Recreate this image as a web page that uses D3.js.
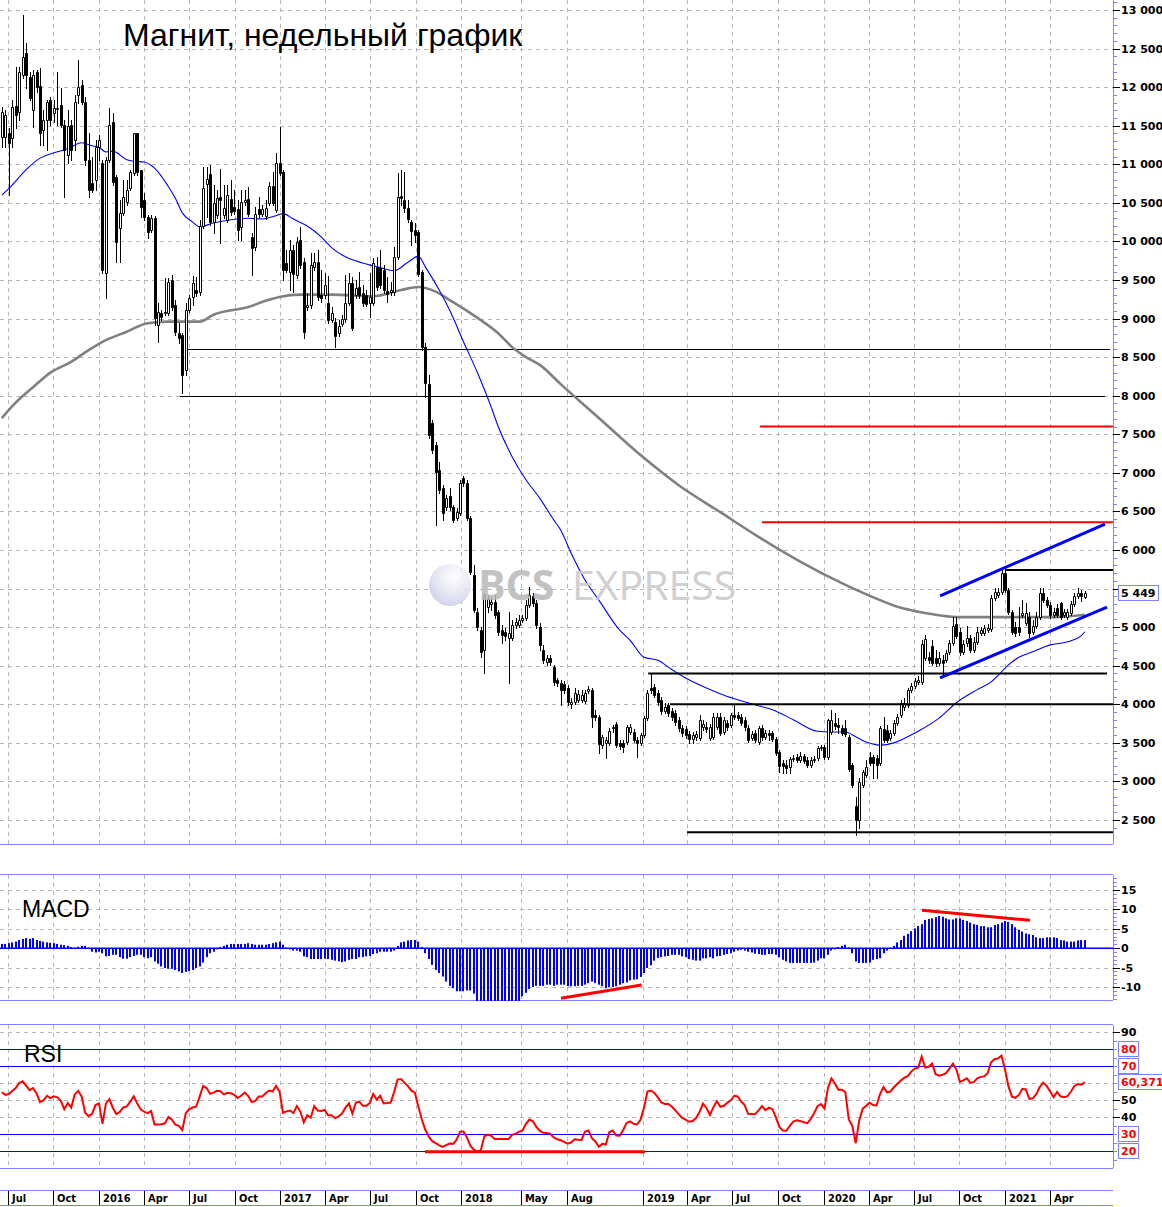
<!DOCTYPE html>
<html>
<head>
<meta charset="utf-8">
<title>Магнит, недельный график</title>
<script src="https://cdn.jsdelivr.net/npm/d3@7/dist/d3.min.js"></script>
<style>
  body { margin: 0; background: #fff; }
  svg { display: block; }
</style>
</head>
<body>
<svg id="chart" width="1162" height="1207"></svg>
<script>
// ---- data ----
// one candle per week, starting from this date
const firstWeek = '2015-06-19';

const opens = [
  11350,11350,11410,11340,11760,11680,12160,12440,12130,11700,
  12200,12020,11450,11570,11830,11670,11720,11770,11510,11120,
  11510,11320,11900,12030,11810,11060,10760,10800,11220,11020,
  9590,11060,11550,10840,10170,10370,10510,10690,10890,11410,
  10930,10540,10320,10150,10300,8920,9070,9070,9070,9500,
  9180,8810,8790,8330,9110,9280,9370,9350,10200,10740,
  10870,10250,10340,10580,10340,10280,10550,10450,10420,10190,
  10510,10550,10060,9930,10420,10360,10330,10500,10720,10410,
  11020,10900,9720,9600,9890,9570,10020,9730,9150,9180,
  9670,9730,9310,9310,9200,8980,8960,8810,8930,9000,
  9200,9460,9310,9410,9330,9310,9200,9200,9670,9660,
  9630,9360,9350,9350,9800,10590,10540,10430,10250,10150,
  10120,9600,8630,8150,7650,7360,7040,6800,6560,6700,
  6560,6420,6480,6930,6870,6420,5680,5200,4960,4700,
  5260,5300,5330,5200,4960,4940,4860,4860,5030,5030,
  5090,5120,5290,5400,5310,5000,4700,4550,4600,4480,
  4320,4280,4260,4210,4000,4030,4060,4060,4040,4170,
  4190,3860,3840,3470,3500,3500,3690,3740,3500,3500,
  3510,3640,3640,3540,3500,3600,3820,4210,4220,4150,
  4060,3910,3990,3910,3890,3800,3690,3680,3610,3550,
  3580,3560,3710,3710,3560,3580,3710,3840,3640,3760,
  3730,3860,3860,3840,3800,3690,3560,3630,3510,3690,
  3580,3630,3630,3550,3380,3240,3210,3190,3290,3320,
  3280,3330,3280,3210,3280,3300,3430,3450,3320,3640,
  3760,3730,3690,3690,3580,3210,2680,2500,2950,3080,
  3320,3320,3300,3240,3680,3670,3560,3630,3760,3860,
  3970,3990,4190,4240,4290,4290,4600,4610,4760,4600,
  4540,4570,4570,4680,4790,5040,4940,4680,4790,4860,
  4700,4810,4920,4920,4960,4980,5380,5420,5460,5700,
  5480,5200,5000,5000,5160,5050,5130,4940,5020,5130,
  5440,5350,5290,5160,5250,5310,5160,5130,5180,5300,
  5400,5440,5390
];
const highs = [
  11740,11700,11470,11830,12260,12260,12940,12570,12200,12220,
  12220,12250,11700,11830,11870,11830,12200,11990,11570,11700,
  11570,11900,12350,12090,11870,11410,11100,11320,11380,11060,
  11100,11730,11670,10860,10540,10800,10800,10930,11410,11410,
  10930,10630,10340,10340,10330,9200,9110,9530,9530,9560,
  9240,8940,8810,9200,9310,9550,9540,10280,10970,10970,
  10990,10730,10670,10940,10730,10730,10800,10670,10540,10670,
  10670,10710,10110,10450,10580,10470,10540,10770,10900,11150,
  11480,10930,9890,10020,9950,10060,10190,9790,9330,9850,
  9850,9890,9630,9590,9550,9150,9010,8980,9050,9570,
  9590,9540,9500,9600,9430,9370,9590,9790,9800,9890,
  9700,9540,9470,9930,10890,10930,10900,10540,10280,10240,
  10150,9630,8680,8270,7690,7400,7140,6840,6710,6800,
  6580,6550,6910,6960,6910,6440,5810,5250,5000,5440,
  5420,5390,5420,5220,5030,4990,5200,5090,5120,5160,
  5160,5350,5520,5440,5350,5050,4770,4640,4640,4510,
  4340,4320,4300,4250,4080,4210,4190,4190,4190,4240,
  4210,3930,3860,3600,3580,3690,3730,3770,3540,3540,
  3730,3740,3680,3580,3630,3850,4190,4410,4260,4190,
  4090,4020,4020,3950,3930,3840,3730,3720,3650,3640,
  3650,3860,3800,3770,3740,3890,3890,3890,3840,3800,
  3890,3990,3900,3870,3840,3730,3650,3670,3720,3730,
  3670,3670,3650,3580,3410,3280,3280,3320,3340,3360,
  3380,3360,3320,3320,3330,3460,3470,3470,3810,3930,
  3890,3820,3730,3800,3600,3240,2800,3040,3150,3280,
  3380,3340,3340,3720,3840,3730,3670,3800,3870,4060,
  4080,4210,4280,4340,4370,4830,4900,4680,4830,4700,
  4680,4640,4700,4830,5130,5130,4990,4830,5020,4900,
  4870,5000,5000,5030,5040,5420,5510,5510,5750,5740,
  5510,5220,5070,5260,5350,5310,5200,5090,5200,5510,
  5510,5390,5330,5250,5300,5330,5240,5240,5340,5440,
  5510,5480,5470
];
const lows = [
  11220,11220,10600,11220,11470,11570,12120,11990,11830,11480,
  11940,11250,11250,11190,11510,11550,11510,11480,10580,11020,
  11060,11190,11800,11780,10990,10580,10640,10670,11060,9590,
  9270,11030,10730,9730,9730,10340,10470,10670,10860,10860,
  10320,10280,10040,10120,8920,8700,8980,9050,9050,9110,
  8790,8680,8040,8270,9090,9180,9290,9310,10170,10320,
  10210,10110,10300,9980,10300,10250,10340,10360,10020,10020,
  10470,10330,9570,9890,10320,10330,10290,10470,10470,10380,
  10860,9500,9600,9370,9350,9530,9660,8750,9110,9140,
  9630,9240,9220,9270,8940,8960,8630,8770,8900,8960,
  9180,8850,9270,9270,9160,9160,9020,9180,9370,9400,
  9330,9220,9310,9310,9770,10470,10380,10250,9950,9990,
  9550,8590,7980,7450,7260,6320,6740,6390,6520,6520,
  6360,6390,6450,6830,6390,5690,5200,4960,4610,4400,
  5200,5220,5120,4900,4790,4830,4280,4830,4990,5000,
  5070,5090,5260,5270,4990,4700,4540,4510,4510,4250,
  4240,3990,4150,3990,3950,4000,4030,4030,4020,4150,
  3710,3800,3370,3430,3300,3470,3640,3450,3420,3380,
  3490,3610,3510,3320,3470,3580,3800,4150,4090,3990,
  3870,3890,3850,3800,3730,3650,3590,3560,3500,3500,
  3540,3540,3670,3640,3540,3550,3680,3600,3610,3670,
  3710,3810,3800,3730,3670,3510,3540,3510,3490,3540,
  3550,3540,3520,3340,3120,3110,3110,3110,3270,3250,
  3250,3240,3190,3190,3250,3280,3410,3290,3290,3610,
  3680,3630,3600,3590,3140,2930,2310,2400,2930,3060,
  3210,3040,3040,3210,3510,3510,3540,3600,3730,3840,
  3930,3970,4160,4210,4260,4260,4570,4540,4510,4500,
  4510,4380,4550,4650,4770,4860,4640,4650,4760,4680,
  4680,4780,4900,4900,4940,4950,5350,5390,5430,5460,
  5170,4910,4880,4900,5130,5030,4870,4910,4990,5110,
  5330,5260,5120,5130,5130,5110,5130,5110,5160,5270,
  5380,5340,5380
];
const closes = [
  11680,11640,11280,11740,11640,12200,12390,12160,11860,12160,
  12000,11410,11570,11810,11570,11730,11730,11510,11190,11500,
  11190,11810,12000,11810,11060,10670,10670,11220,11320,9630,
  11060,11510,10770,9990,10370,10580,10670,10900,11410,10900,
  10450,10320,10120,10300,9010,9090,9020,9090,9470,9150,
  8830,8750,8270,9110,9270,9460,9330,10200,10690,10810,
  10250,10500,10560,10540,10430,10600,10380,10400,10150,10510,
  10540,10360,9920,10360,10360,10420,10430,10720,10500,11020,
  10890,9630,9630,9890,9580,9990,9700,8830,9180,9700,
  9730,9280,9270,9440,8980,9070,8770,8900,9000,9200,
  9460,8880,9400,9310,9200,9190,9280,9720,9410,9440,
  9370,9320,9370,9800,10580,10560,10430,10290,10140,10080,
  9580,8630,8170,7490,7300,7010,6780,6480,6670,6560,
  6390,6490,6870,6870,6420,5720,5220,5000,4680,5420,
  5370,5330,5160,4940,4900,4890,4920,5030,5070,5090,
  5120,5290,5420,5310,5030,4770,4570,4600,4550,4290,
  4280,4190,4190,4030,4030,4150,4130,4120,4150,4200,
  3840,3840,3490,3580,3540,3650,3710,3470,3460,3450,
  3710,3710,3540,3500,3600,3820,4150,4190,4120,4030,
  3910,3970,3890,3840,3770,3690,3630,3600,3550,3600,
  3610,3800,3740,3680,3710,3840,3840,3630,3800,3710,
  3860,3840,3820,3760,3710,3540,3610,3540,3690,3580,
  3630,3600,3550,3370,3200,3200,3170,3290,3300,3280,
  3330,3270,3210,3280,3290,3430,3450,3320,3800,3800,
  3720,3710,3630,3610,3160,2950,2500,2990,3120,3190,
  3240,3240,3210,3690,3540,3540,3630,3760,3840,4020,
  4020,4190,4240,4300,4320,4780,4850,4570,4540,4540,
  4600,4540,4670,4790,5020,4890,4680,4780,4860,4700,
  4810,4940,4960,4990,4990,5380,5460,5460,5700,5480,
  5200,4940,4920,4940,5180,5180,4920,5020,5130,5440,
  5350,5290,5160,5200,5160,5130,5200,5200,5300,5400,
  5440,5400,5449
];

// moving averages: [week number, price]
const maFast = [
  [0,10600],[3,10730],[7,10930],[11,11080],[15,11150],[19,11200],[23,11280],[26,11240],
  [28,11220],[30,11160],[32,11170],[36,11060],[38,11040],[41,11030],[44,10950],[48,10710],
  [50,10560],[52,10370],[55,10250],[57,10190],[61,10240],[66,10280],[71,10300],[75,10290],
  [78,10320],[81,10360],[84,10290],[88,10200],[92,10060],[95,9920],[99,9800],[104,9720],
  [109,9660],[113,9620],[117,9730],[120,9810],[122,9670],[126,9370],[129,9110],[133,8700],
  [137,8300],[141,7850],[143,7600],[147,7210],[151,6910],[155,6670],[159,6390],[161,6260],
  [164,5960],[168,5610],[172,5350],[178,4960],[181,4830],[185,4610],[189,4570],[193,4450],
  [197,4340],[203,4210],[209,4100],[215,4020],[218,3980],[222,3930],[228,3800],[235,3650],
  [239,3640],[243,3640],[246,3580],[249,3510],[253,3470],[257,3500],[261,3580],[264,3650],
  [270,3820],[275,4020],[281,4190],[285,4290],[288,4420],[290,4510],[293,4610],[297,4680],
  [302,4770],[307,4810],[311,4890],[312,4940]
];
const maSlow = [
  [0,7710],[4,7910],[9,8110],[14,8300],[20,8440],[25,8590],[30,8720],[36,8830],[42,8940],
  [48,8960],[53,8960],[57,8960],[61,9050],[71,9150],[76,9230],[80,9280],[86,9310],[95,9310],
  [107,9290],[115,9370],[120,9410],[125,9350],[129,9240],[134,9100],[138,8980],[143,8810],
  [147,8630],[151,8500],[155,8400],[161,8150],[172,7710],[184,7230],[195,6840],[207,6490],
  [218,6170],[230,5850],[242,5570],[253,5350],[259,5250],[264,5200],[276,5130],[290,5130],
  [303,5130],[312,5160]
];

const macdValues = [
  1.1,1.1,1.3,1.5,1.7,2.1,2.4,2.6,2.4,2.6,
  2.1,1.9,1.7,1.5,1.4,1.3,1.1,0.9,0.8,0.6,
  0.3,0.1,0.4,0.6,0.6,0.1,-0.9,-1.1,-0.9,-1.3,
  -2.1,-2.0,-1.7,-1.7,-2.3,-2.7,-2.7,-2.3,-2.0,-1.7,
  -1.7,-2.3,-2.6,-2.3,-3.4,-4.0,-4.7,-5.1,-5.3,-5.3,
  -5.6,-6.0,-6.4,-6.1,-5.9,-5.6,-5.1,-4.7,-3.7,-2.3,
  -1.3,-0.9,-0.3,0.3,0.6,0.9,1.1,1.1,1.1,1.1,
  1.1,1.3,1.1,0.9,0.9,0.9,0.9,1.1,1.3,1.5,
  1.7,0.9,0.1,-0.3,-0.6,-0.6,-0.9,-2.1,-2.3,-2.8,
  -2.8,-2.8,-2.8,-2.7,-2.8,-3.0,-3.2,-3.4,-3.6,-3.4,
  -3.0,-2.8,-2.8,-2.3,-2.3,-2.1,-2.0,-1.5,-1.3,-0.9,
  -0.9,-0.9,-0.9,-0.6,0.6,1.5,1.7,2.0,2.1,2.1,
  1.7,0.3,-1.3,-2.8,-4.3,-5.6,-6.4,-7.3,-8.6,-9.7,
  -10.3,-11.1,-11.1,-11.1,-10.9,-10.9,-11.7,-13.8,-14.5,-15.0,
  -15.5,-15.5,-15.0,-14.8,-14.5,-14.5,-14.2,-14.0,-13.8,-13.6,
  -12.4,-11.5,-10.5,-10.0,-9.7,-9.7,-9.7,-9.4,-9.4,-9.7,
  -9.4,-9.4,-9.4,-9.8,-9.8,-9.8,-9.7,-9.7,-9.4,-9.0,
  -8.6,-9.0,-9.4,-9.8,-10.3,-10.0,-10.0,-9.8,-9.4,-9.0,
  -8.8,-8.3,-8.1,-8.0,-7.4,-6.4,-5.1,-4.4,-3.2,-2.5,
  -2.3,-2.1,-2.0,-1.7,-1.7,-1.7,-2.1,-2.3,-2.8,-3.0,
  -3.2,-3.2,-2.6,-2.6,-2.3,-2.6,-2.1,-2.0,-1.7,-1.5,
  -1.3,-0.9,-0.6,-0.4,-0.6,-0.9,-1.1,-1.4,-1.5,-1.7,
  -1.7,-1.5,-1.5,-1.7,-2.3,-3.0,-3.4,-3.8,-3.8,-3.8,
  -3.8,-3.8,-3.8,-3.8,-3.7,-3.2,-2.6,-2.6,-1.7,-0.6,
  -0.3,0.3,0.6,0.9,0.2,-1.3,-3.4,-3.8,-3.8,-3.8,
  -3.7,-3.0,-2.8,-2.6,-1.3,-0.6,0.1,0.6,1.5,2.1,
  3.2,3.7,4.4,5.1,5.7,6.2,7.3,7.5,7.7,8.0,
  8.3,8.1,7.7,7.4,7.4,7.7,7.7,7.3,7.0,6.6,
  6.2,6.0,5.7,5.7,5.4,5.4,6.0,6.2,6.6,7.0,
  6.8,6.2,5.4,4.7,4.3,3.8,3.6,3.4,2.8,2.6,
  2.6,2.8,2.8,2.8,2.6,2.1,2.0,1.7,1.7,1.7,
  2.0,2.1,2.1
];

const rsiValues = [
  54.6,53,53.5,55.3,57,60,61,58.5,55.8,57,
  54,48.8,49.8,52.5,51.1,52.2,51.6,49.5,44.6,48.2,
  45.6,53.3,55.4,52,42.5,40.5,41.8,47,48,36,
  48,50.5,45.3,41.7,43,45.6,46.2,49,52.2,48,
  44.5,43.1,42.3,43.5,35.6,35.6,35.8,36.3,40,38.4,
  35.5,34.8,32.3,42.2,44.6,45.6,46.2,52,58.2,57,
  53.6,54.3,55.4,55.2,53.3,54.2,54,53,51.2,52.6,
  54.4,52.3,48.8,49.5,52,52,54,55.6,55,58.3,
  55,42.5,43.3,43.8,42.3,46.4,43.2,36.8,41,39.6,
  46.4,43.8,43.6,44.2,41,41,39.3,40.3,42,45.5,
  48,42,48.5,49,46.6,46.6,48.2,53.6,50.3,52.5,
  48,48.2,48.5,54.5,62,62.3,60.2,58.2,55.5,54.3,
  46,38.5,32.5,28.4,25.8,24.6,23.3,22.4,23.5,24.4,
  24.2,26.5,31.4,31.5,28,23,20.8,19.5,20.5,28.6,
  29.6,29,27,27,27,27,27,29.5,30.1,31.4,
  32,36,38.5,37.5,34.2,31.8,30.7,30.6,30.1,28,
  26.9,26.3,25.4,24.3,25,26.9,26.6,26.5,31.4,32.1,
  27.5,25.6,22.5,24.2,23.8,31,32,29.1,29,32.4,
  36.5,37.4,36,35.6,38.3,45.4,55,55.6,54.2,51.5,
  48.6,47.7,47.7,46.2,44,41.7,39.4,38.4,37.2,37.6,
  39.4,43,47.8,45.3,41.2,45.8,49.3,46,46.6,48.4,
  49.8,52.5,52.1,49.1,47,41.9,41.8,41.6,43.9,46.4,
  44,45.5,44.6,39.8,34.2,32,31.9,34.8,37.3,38.1,
  37.6,37,36.3,38.7,42.2,46.4,47.6,44.9,57,62.7,
  59.7,56,56,54.6,38.6,34.8,24.6,38,44.8,46.6,
  48.4,47,46.8,53.5,57.6,54.5,55,57.5,59.6,61.5,
  63.1,64,66.7,68.5,69,75.5,69.1,69.5,71.4,65.2,
  64.3,64.8,65.8,68.5,71.4,67.9,60.6,61.5,62.7,60.2,
  60.5,62.8,63.6,63.9,65.8,72.2,74,74.5,76,68,
  58,52,51.3,53,56.6,56.2,50.7,51,53.4,57.6,
  60.2,58.3,55,51.7,54.8,52.2,51.6,52.2,55,58.3,
  59.4,59,60.371
];

// annotations: [from week, to week, price]
const thinLevels = [[53.6, 319.3, 8600], [51.3, 317.8, 8000]];
const boldLevels = [[289, 320.1, 5740], [186.2, 318.4, 4400], [192.5, 320.1, 4000], [197.4, 320.1, 2340]];
const redLevels = [[218.4, 320.1, 7600], [219, 320.1, 6360]];
const channel = [[[270.3, 5404], [317.8, 6337]], [[270.3, 4341], [318.4, 5261]]];
const macdDivergence = [[[161.1, -12.9], [184.3, -9.5]], [[265.1, 9.8], [296.2, 7.2]]];
const rsiDivergence = [[121.9, 19.5], [185.3, 19.5]];

// time axis labels
const timeLabels = [
  ['2015-07-01','Jul'],['2015-10-01','Oct'],['2016-01-01','2016'],['2016-04-01','Apr'],
  ['2016-07-01','Jul'],['2016-10-01','Oct'],['2017-01-01','2017'],['2017-04-01','Apr'],
  ['2017-07-01','Jul'],['2017-10-01','Oct'],['2018-01-01','2018'],['2018-05-01','May'],
  ['2018-08-01','Aug'],['2019-01-01','2019'],['2019-04-01','Apr'],['2019-07-01','Jul'],
  ['2019-10-01','Oct'],['2020-01-01','2020'],['2020-04-01','Apr'],['2020-07-01','Jul'],
  ['2020-10-01','Oct'],['2021-01-01','2021'],['2021-04-01','Apr']
];
const priceTicks = d3.range(2500, 13001, 500);
const macdTicks = [15, 10, 5, 0, -5, -10];
const rsiTicks = [90, 80, 70, 60, 50, 40, 30, 20];
const rsiBoxed = [80, 70, 30, 20];

// ---- chart ----
const svg = d3.select('#chart');
const AX = 1113;
const FRAME = '#8080ff';
const GRID = '#b8b8b8';
const LABEL_FONT = '"DejaVu Sans", sans-serif';

const parseDay = d3.utcParse('%Y-%m-%d');
const start = parseDay(firstWeek);
const barDate = i => new Date(start.getTime() + i * 7 * 864e5);

const x = d3.scaleUtc().domain([parseDay('2016-01-01'), parseDay('2021-01-01')]).range([99, 1005]);
const xi = i => x(barDate(i));
const px = i => Math.round(xi(i));
const yP = d3.scaleLinear().domain([2500, 13000]).range([820, 10]);
const yM = d3.scaleLinear().domain([-10, 15]).range([987, 890]);
const yR = d3.scaleLinear().domain([20, 90]).range([1151, 1032]);

const fmt = d3.formatLocale({decimal: ',', thousands: ' ', grouping: [3], currency: ['', '']}).format(',d');

const defs = svg.append('defs');
function clip(id, y0, y1) {
  defs.append('clipPath').attr('id', id)
    .append('rect').attr('x', 0).attr('y', y0).attr('width', AX).attr('height', y1 - y0);
}
clip('cMain', 0, 844);
clip('cMacd', 875, 1001);
clip('cRsi', 1025, 1168);

function vGrid(g, y0, y1) {
  g.selectAll(null).data(timeLabels).join('line')
    .attr('x1', d => Math.round(x(parseDay(d[0]))) + 0.5)
    .attr('x2', d => Math.round(x(parseDay(d[0]))) + 0.5)
    .attr('y1', y0).attr('y2', y1)
    .attr('stroke', GRID).attr('stroke-dasharray', '4,4');
}
function hGrid(g, vals, scale) {
  g.selectAll(null).data(vals).join('line')
    .attr('x1', 0).attr('x2', AX)
    .attr('y1', d => Math.round(scale(d)) + 0.5).attr('y2', d => Math.round(scale(d)) + 0.5)
    .attr('stroke', GRID).attr('stroke-dasharray', '4,4');
}
function hLine(g, y, color, w) {
  g.append('line').attr('x1', 0).attr('x2', AX).attr('y1', y).attr('y2', y)
    .attr('stroke', color).attr('stroke-width', w || 1);
}

// ---------- main price panel ----------
const main = svg.append('g').attr('clip-path', 'url(#cMain)');
vGrid(main, 0, 844);
hGrid(main, priceTicks, yP);

main.selectAll('.thin').data(thinLevels).join('line')
  .attr('x1', d => xi(d[0])).attr('x2', d => xi(d[1]))
  .attr('y1', d => Math.round(yP(d[2])) + 0.5).attr('y2', d => Math.round(yP(d[2])) + 0.5)
  .attr('stroke', '#000').attr('stroke-width', 1);

const maLine = d3.line().x(d => xi(d[0])).y(d => yP(d[1])).curve(d3.curveMonotoneX);
main.append('path').attr('d', maLine(maSlow)).attr('fill', 'none')
  .attr('stroke', '#808080').attr('stroke-width', 2.6);
main.append('path').attr('d', maLine(maFast)).attr('fill', 'none')
  .attr('stroke', '#0000ff').attr('stroke-width', 1.1);

const candles = opens.map((o, i) => ({i, o, h: highs[i], l: lows[i], c: closes[i]}));
const gC = main.append('g');
gC.selectAll('line').data(candles).join('line')
  .attr('x1', d => px(d.i) + 0.5).attr('x2', d => px(d.i) + 0.5)
  .attr('y1', d => Math.round(yP(d.h))).attr('y2', d => Math.round(yP(d.l)) + 1)
  .attr('stroke', '#000');
gC.selectAll('path').data(candles).join('path')
  .attr('d', d => {
    const top = Math.round(yP(Math.max(d.o, d.c))) + 0.5;
    const bot = Math.round(yP(Math.min(d.o, d.c))) + 0.5;
    const x0 = px(d.i) - 0.5;
    return `M${x0},${top}H${x0 + 2}V${bot}H${x0}Z`;
  })
  .attr('fill', d => d.c >= d.o ? '#fff' : '#000')
  .attr('stroke', '#000');

main.selectAll('.bold').data(boldLevels).join('line')
  .attr('x1', d => xi(d[0])).attr('x2', d => xi(d[1]))
  .attr('y1', d => yP(d[2])).attr('y2', d => yP(d[2]))
  .attr('stroke', '#000').attr('stroke-width', 2);
main.selectAll('.red').data(redLevels).join('line')
  .attr('x1', d => xi(d[0])).attr('x2', d => xi(d[1]))
  .attr('y1', d => yP(d[2])).attr('y2', d => yP(d[2]))
  .attr('stroke', '#ff0000').attr('stroke-width', 2);
main.selectAll('.chan').data(channel).join('line')
  .attr('x1', d => xi(d[0][0])).attr('x2', d => xi(d[1][0]))
  .attr('y1', d => yP(d[0][1])).attr('y2', d => yP(d[1][1]))
  .attr('stroke', '#0000ff').attr('stroke-width', 3);

// watermark
const grad = defs.append('radialGradient').attr('id', 'wmGrad').attr('cx', '60%').attr('cy', '30%').attr('r', '75%');
grad.append('stop').attr('offset', '0%').attr('stop-color', '#ffffff');
grad.append('stop').attr('offset', '55%').attr('stop-color', '#e4e4f4');
grad.append('stop').attr('offset', '100%').attr('stop-color', '#c8c8e6');
const wm = svg.append('g').attr('opacity', 0.85);
wm.append('circle').attr('cx', 450).attr('cy', 585).attr('r', 21).attr('fill', 'url(#wmGrad)');
wm.append('text').attr('x', 478).attr('y', 600).text('BCS')
  .attr('font-family', '"Open Sans", "Liberation Sans", sans-serif').attr('font-weight', 'bold')
  .attr('font-size', 41).attr('fill', '#b8b8b8');
wm.append('text').attr('x', 572).attr('y', 600).text('EXPRESS')
  .attr('font-family', '"Open Sans", "Liberation Sans", sans-serif')
  .attr('font-size', 41).attr('fill', '#c8c8c8');

svg.append('text').attr('x', 123).attr('y', 46).text('Магнит, недельный график')
  .attr('font-family', '"Liberation Sans", Arial, sans-serif').attr('font-size', 32).attr('fill', '#000');

hLine(svg, 844.5, FRAME);

// ---------- MACD panel ----------
hLine(svg, 874.5, FRAME, 1);
hLine(svg, 1000.5, FRAME, 1);
const macd = svg.append('g').attr('clip-path', 'url(#cMacd)');
vGrid(macd, 875, 1000);
hGrid(macd, [15, 10, 5, -5, -10], yM);
macd.selectAll('rect').data(macdValues).join('rect')
  .attr('x', (d, i) => px(i) - 1).attr('width', 2)
  .attr('y', d => Math.min(yM(d), yM(0)))
  .attr('height', d => Math.abs(yM(d) - yM(0)))
  .attr('fill', '#0000ff');
macd.append('line').attr('x1', 0).attr('x2', AX).attr('y1', yM(0)).attr('y2', yM(0))
  .attr('stroke', '#0000ff').attr('stroke-width', 1.5);
macd.selectAll('.div').data(macdDivergence).join('line')
  .attr('x1', d => xi(d[0][0])).attr('x2', d => xi(d[1][0]))
  .attr('y1', d => yM(d[0][1])).attr('y2', d => yM(d[1][1]))
  .attr('stroke', '#ff0000').attr('stroke-width', 3);
svg.append('text').attr('x', 22).attr('y', 917).text('MACD')
  .attr('font-family', '"Liberation Sans", Arial, sans-serif').attr('font-size', 23).attr('fill', '#000');

// ---------- RSI panel ----------
hLine(svg, 1024.5, FRAME, 1);
hLine(svg, 1168.5, FRAME, 1);
const rsi = svg.append('g').attr('clip-path', 'url(#cRsi)');
vGrid(rsi, 1025, 1168);
hGrid(rsi, [90, 60, 50, 40], yR);
rsi.selectAll('.lvl').data([80, 70, 30, 20]).join('line')
  .attr('x1', 0).attr('x2', AX)
  .attr('y1', d => Math.round(yR(d)) + 0.5).attr('y2', d => Math.round(yR(d)) + 0.5)
  .attr('stroke', '#0000ff');
rsi.append('line')
  .attr('x1', xi(rsiDivergence[0][0])).attr('x2', xi(rsiDivergence[1][0]))
  .attr('y1', yR(rsiDivergence[0][1])).attr('y2', yR(rsiDivergence[1][1]))
  .attr('stroke', '#ff0000').attr('stroke-width', 3);
rsi.append('path')
  .attr('d', d3.line().x((d, i) => xi(i)).y(d => yR(d))(rsiValues))
  .attr('fill', 'none').attr('stroke', '#ff0000').attr('stroke-width', 2);
svg.append('text').attr('x', 24).attr('y', 1062).text('RSI')
  .attr('font-family', '"Liberation Sans", Arial, sans-serif').attr('font-size', 23).attr('fill', '#000');

// ---------- right axes ----------
function rightAxis(y0, y1, scale, major, minor, labelFmt) {
  const g = svg.append('g');
  g.append('line').attr('x1', AX + 0.5).attr('x2', AX + 0.5).attr('y1', y0).attr('y2', y1).attr('stroke', FRAME);
  g.selectAll('.mn').data(minor.filter(v => scale(v) >= y0 && scale(v) <= y1)).join('line')
    .attr('x1', AX).attr('x2', AX + 4)
    .attr('y1', d => Math.round(scale(d)) + 0.5).attr('y2', d => Math.round(scale(d)) + 0.5)
    .attr('stroke', FRAME);
  g.selectAll('.mj').data(major).join('line')
    .attr('x1', AX).attr('x2', AX + 7)
    .attr('y1', d => Math.round(scale(d)) + 0.5).attr('y2', d => Math.round(scale(d)) + 0.5)
    .attr('stroke', '#000');
  g.selectAll('text').data(major).join('text')
    .attr('x', AX + 8).attr('y', d => scale(d) + 4)
    .text(labelFmt)
    .attr('font-family', LABEL_FONT).attr('font-weight', 'bold').attr('font-size', 11).attr('fill', '#000');
  return g;
}
rightAxis(0, 844, yP, priceTicks, d3.range(2400, 13101, 100), d => fmt(d));
rightAxis(875, 1000, yM, macdTicks, d3.range(-13, 19, 1), d => String(d));
rightAxis(1025, 1168, yR, rsiTicks.filter(v => !rsiBoxed.includes(v) && v !== 60), d3.range(15, 96, 5), d => String(d));

// boxed RSI labels
const boxes = rsiBoxed.map(v => [v, String(v), 20]).concat([[rsiValues[rsiValues.length - 1], '60,371', 48]]);
boxes.forEach(([v, t, w]) => {
  const yy = Math.round(yR(v));
  svg.append('rect').attr('x', AX + 5.5).attr('y', yy - 7.5).attr('width', w).attr('height', 15)
    .attr('fill', '#fff').attr('stroke', FRAME);
  svg.append('text').attr('x', AX + 8).attr('y', yy + 4).text(t)
    .attr('font-family', LABEL_FONT).attr('font-weight', 'bold').attr('font-size', 11).attr('fill', '#ff0000');
});

// last price box
const lastClose = closes[closes.length - 1];
const ly = Math.round(yP(lastClose));
svg.append('rect').attr('x', AX + 5.5).attr('y', ly - 7.5).attr('width', 40).attr('height', 15)
  .attr('fill', '#fff').attr('stroke', FRAME);
svg.append('text').attr('x', AX + 8).attr('y', ly + 4).text(fmt(lastClose))
  .attr('font-family', LABEL_FONT).attr('font-weight', 'bold').attr('font-size', 11).attr('fill', '#000');

// ---------- time axis ----------
const gT = svg.append('g');
hLine(gT, 1190.5, FRAME);
hLine(gT, 1205.5, FRAME);
gT.selectAll('.sep').data(timeLabels).join('line')
  .attr('x1', d => Math.round(x(parseDay(d[0]))) + 0.5)
  .attr('x2', d => Math.round(x(parseDay(d[0]))) + 0.5)
  .attr('y1', 1191).attr('y2', 1205).attr('stroke', '#000');
gT.selectAll('text').data(timeLabels).join('text')
  .attr('x', d => Math.round(x(parseDay(d[0]))) + 4)
  .attr('y', 1202)
  .text(d => d[1])
  .attr('font-family', '"Liberation Sans Narrow", "DejaVu Sans Condensed", sans-serif')
  .attr('font-weight', 'bold').attr('font-size', 11).attr('fill', '#000');
</script>
</body>
</html>
